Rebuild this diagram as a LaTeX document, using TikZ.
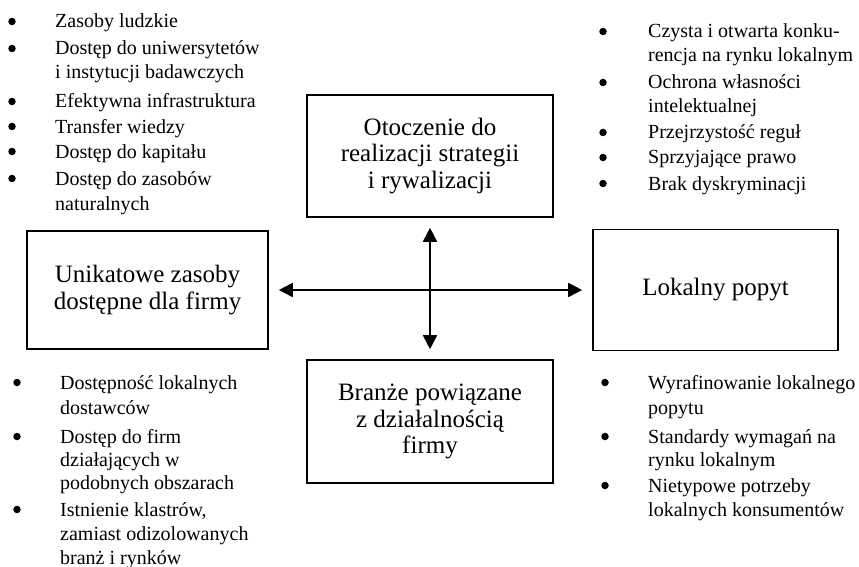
\documentclass[tikz,border=0pt]{standalone}
\usepackage{fontspec}
\setmainfont{Liberation Serif}
\usetikzlibrary{arrows.meta}

% list line: name, x, baseline y, text
\newcommand\lline[4]{\node[item] (#1) at (#2,#3) {#4};}
% list bullet: name, x, baseline y
\newcommand\lbul[3]{\node[bul] (#1) at (#2,#3-6.5) {};}

\tikzset{
  box/.style={draw, line width=1.6pt, inner sep=0pt, align=center,
    font=\fontsize{25}{26.5}\selectfont},
  item/.style={anchor=base west, inner sep=0pt, font=\fontsize{20}{24}\selectfont},
  bul/.style={circle, fill, inner sep=0pt, minimum size=7.5pt},
  link/.style={line width=1.8pt,
    {Triangle[length=14pt,width=14pt]}-{Triangle[length=14pt,width=14pt]},
    shorten <=10pt, shorten >=10pt}
}

\begin{document}
\begin{tikzpicture}[x=1pt,y=-1pt]
\useasboundingbox (0,0) rectangle (859,567);

% the four determinants
\node[box, minimum width=246pt, minimum height=122pt] (strat) at (430,156)
  {Otoczenie do\\realizacji strategii\\i rywalizacji};
\node[box, minimum width=241pt, minimum height=118pt] (res) at (147.5,290)
  {Unikatowe zasoby\\dostępne dla firmy};
\node[box, minimum width=245pt, minimum height=121pt] (dem) at (715.5,290)
  {Lokalny popyt};
\node[box, minimum width=246pt, minimum height=123pt] (rel) at (430,421.5)
  {Branże powiązane\\z działalnością\\firmy};

% links between the determinants
\draw[link] (strat.south) -- (rel.north);
\draw[link] (res.east) -- (dem.west);

% resources list
\lbul{ba1}{12}{28}  \lline{ta1}{55}{28}{Zasoby ludzkie}
\lbul{ba2}{12}{55}  \lline{ta2}{55}{55}{Dostęp do uniwersytetów}
                    \lline{ta3}{55}{79}{i instytucji badawczych}
\lbul{ba3}{12}{108} \lline{ta4}{55}{108}{Efektywna infrastruktura}
\lbul{ba4}{12}{133} \lline{ta5}{55}{133}{Transfer wiedzy}
\lbul{ba5}{12}{158} \lline{ta6}{55}{158}{Dostęp do kapitału}
\lbul{ba6}{12}{185} \lline{ta7}{55}{185}{Dostęp do zasobów}
                    \lline{ta8}{55}{210}{naturalnych}

% strategy and rivalry list
\lbul{bb1}{603}{38}  \lline{tb1}{648}{38}{Czysta i otwarta konku-}
                     \lline{tb2}{648}{62}{rencja na rynku lokalnym}
\lbul{bb2}{603}{89}  \lline{tb3}{648}{89}{Ochrona własności}
                     \lline{tb4}{648}{113}{intelektualnej}
\lbul{bb3}{603}{139} \lline{tb5}{648}{139}{Przejrzystość reguł}
\lbul{bb4}{603}{164} \lline{tb6}{648}{164}{Sprzyjające prawo}
\lbul{bb5}{603}{190} \lline{tb7}{648}{190}{Brak dyskryminacji}

% related industries list
\lbul{bc1}{17}{389} \lline{tc1}{60}{389}{Dostępność lokalnych}
                    \lline{tc2}{60}{414}{dostawców}
\lbul{bc2}{17}{443} \lline{tc3}{60}{443}{Dostęp do firm}
                    \lline{tc4}{60}{466}{działających w}
                    \lline{tc5}{60}{489}{podobnych obszarach}
\lbul{bc3}{17}{516} \lline{tc6}{60}{516}{Istnienie klastrów,}
                    \lline{tc7}{60}{540}{zamiast odizolowanych}
                    \lline{tc8}{60}{564}{branż i rynków}

% local demand list
\lbul{bd1}{605}{389} \lline{td1}{648}{389}{Wyrafinowanie lokalnego}
                     \lline{td2}{648}{414}{popytu}
\lbul{bd2}{605}{443} \lline{td3}{648}{443}{Standardy wymagań na}
                     \lline{td4}{648}{466}{rynku lokalnym}
\lbul{bd3}{605}{492} \lline{td5}{648}{492}{Nietypowe potrzeby}
                     \lline{td6}{648}{516}{lokalnych konsumentów}
\end{tikzpicture}
\end{document}
